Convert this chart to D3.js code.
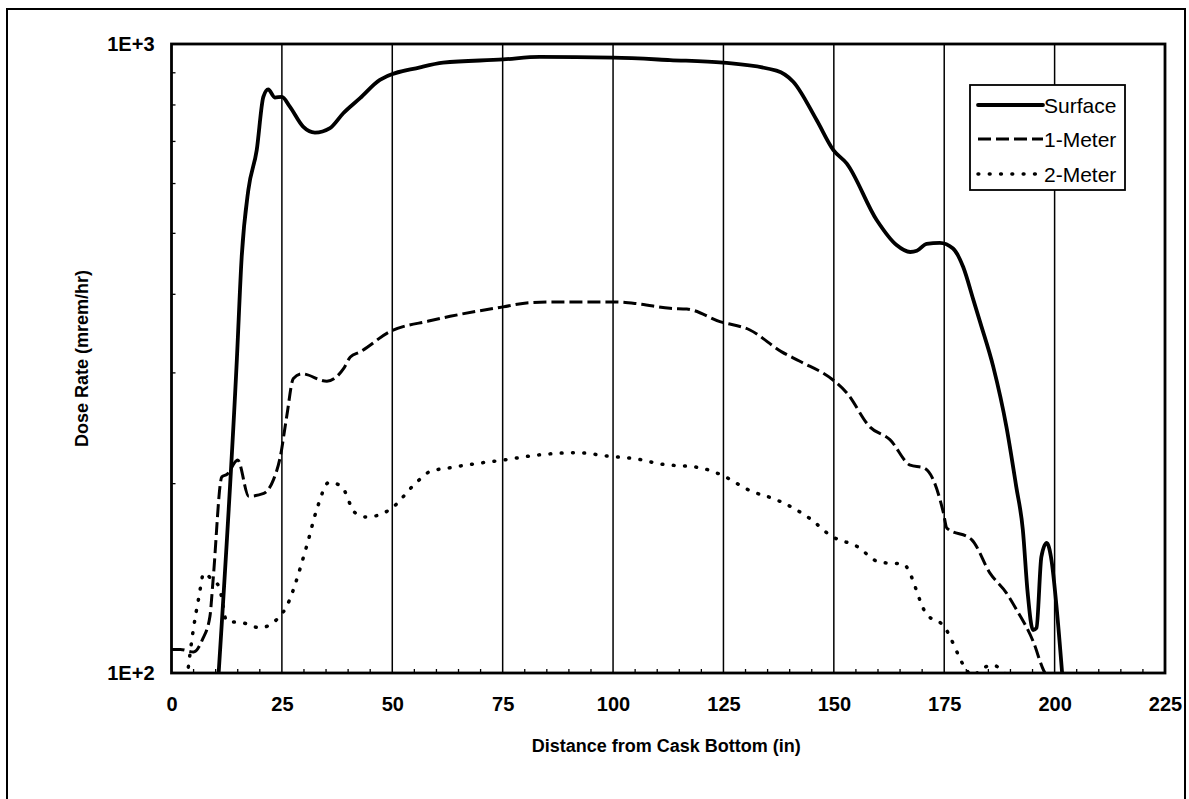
<!DOCTYPE html>
<html>
<head>
<meta charset="utf-8">
<script src="https://cdn.jsdelivr.net/npm/d3@7"></script>
<style>
  html, body { margin: 0; padding: 0; background: #fff; }
  svg { display: block; }
  text { font-family: "Liberation Sans", Arial, sans-serif; fill: #000; }
</style>
</head>
<body>
<svg id="chart" width="1189" height="799"></svg>
<script>
// Dose rate profiles along the cask (distance in inches, dose in mrem/hr)
const surfaceDist = [10.6, 14.8, 15.9, 17.4, 19.3, 20.8, 21.9, 23.4, 25, 26.8, 29.8, 32.5, 35.9, 38.9, 42.7, 47.2, 56.3, 61.5, 75.1, 83.4, 100, 112.9, 124.9, 137, 140.8, 146.1, 149.9, 152.9, 159.7, 164.2, 167.3, 168.8, 171, 174, 177, 179.3, 181.6, 183.2, 186.1, 189.1, 191.3, 192.8, 193.9, 195.1, 195.9, 197, 198.2, 199.3, 200.5, 201.8];
const surfaceDose = [98, 315, 459, 586, 678, 824, 847, 822, 824, 795, 739, 723, 735, 776, 820, 877, 918, 934, 945, 954, 951, 943, 934, 907, 871, 757, 678, 646, 525, 479, 467, 469, 481, 483, 473, 442, 392, 360, 307, 246, 198, 169, 134, 117, 118, 153, 161, 151, 126, 98];

const oneMeterDist = [0, 2, 5, 7, 8.7, 9.4, 11.4, 12.6, 15, 17.5, 20.9, 23.1, 24.6, 26.1, 27.6, 29.5, 35.2, 39, 40.5, 42.7, 49.5, 58.5, 63.1, 75.1, 81.2, 87.2, 100.8, 106.1, 112.9, 116.7, 124.2, 131, 138.2, 142.3, 149.9, 152.9, 158.2, 162.7, 167.3, 170.3, 172.5, 174.8, 175.6, 181.2, 185.4, 189.1, 191.4, 195.2, 197.5, 198.6];
const oneMeterDose = [109, 109, 108, 113, 123, 140, 205, 207, 218, 191, 193, 203, 220, 256, 294, 299, 291, 305, 318, 324, 349, 363, 369, 382, 388, 389, 389, 386, 380, 379, 362, 351, 324, 313, 292, 279, 246, 235, 214, 212, 203, 180, 170, 163, 144, 134, 126, 112, 101, 98];

const twoMeterDist = [3.5, 5, 6.2, 7.3, 9.1, 10.8, 12.5, 16.5, 20, 25.3, 30.6, 32.9, 35.7, 38.5, 41.5, 44.2, 49.5, 55.5, 58.5, 63.1, 70.6, 75.1, 82.7, 91.8, 99.3, 105.3, 110.6, 119.7, 124.2, 131, 137.4, 144.6, 149.5, 155.2, 160.4, 165.7, 171, 174.8, 180.1, 181.2, 184, 186, 188, 189.2];
const twoMeterDose = [98, 118, 132, 144, 141, 137, 121, 120, 118, 125, 159, 182, 201, 198, 180, 177, 182, 201, 209, 212, 216, 218, 222, 224, 221, 219, 215, 212, 207, 195, 188, 176, 165, 159, 150, 149, 124, 119, 101, 99, 102, 103, 101, 99];

const seriesNames = ["Surface", "1-Meter", "2-Meter"];
const xTickValues = [0, 25, 50, 75, 100, 125, 150, 175, 200, 225];
const xGridValues = [25, 50, 75, 100, 125, 150, 175, 200];
const xMinorValues = d3.range(5, 225, 5).filter(v => v % 25 !== 0);
const yTickValues = [100, 1000];
const yTickLabels = ["1E+2", "1E+3"];
const yMinorValues = [200, 300, 400, 500, 600, 700, 800, 900];
const xTitle = "Distance from Cask Bottom (in)";
const yTitle = "Dose Rate (mrem/hr)";

const svg = d3.select("#chart");
const plot = { left: 171.5, right: 1165, top: 44, bottom: 673 };

const x = d3.scaleLinear().domain([0, 225]).range([plot.left, plot.right]);
const y = d3.scaleLog().domain([100, 1000]).range([plot.bottom, plot.top]);

// outer chart frame
svg.append("rect")
  .attr("x", 7).attr("y", 9)
  .attr("width", 1178).attr("height", 840)
  .attr("fill", "none").attr("stroke", "#000").attr("stroke-width", 2);

// vertical gridlines
svg.append("g")
  .selectAll("line")
  .data(xGridValues)
  .join("line")
  .attr("x1", d => x(d)).attr("x2", d => x(d))
  .attr("y1", plot.top).attr("y2", plot.bottom)
  .attr("stroke", "#000").attr("stroke-width", 1.5);

// minor ticks on the x axis (pointing inward)
svg.append("g")
  .selectAll("line")
  .data(xMinorValues)
  .join("line")
  .attr("x1", d => x(d)).attr("x2", d => x(d))
  .attr("y1", plot.bottom).attr("y2", plot.bottom - 4)
  .attr("stroke", "#000").attr("stroke-width", 1.3);

// minor ticks on the log y axis
svg.append("g")
  .selectAll("line")
  .data(yMinorValues)
  .join("line")
  .attr("x1", plot.left).attr("x2", plot.left + 4)
  .attr("y1", d => y(d)).attr("y2", d => y(d))
  .attr("stroke", "#000").attr("stroke-width", 1.3);

// x axis labels
const xAxis = d3.axisBottom(x).tickValues(xTickValues).tickSize(0).tickPadding(24)
  .tickFormat(d3.format("d"));
const gx = svg.append("g").attr("transform", `translate(0,${plot.bottom})`).call(xAxis);
gx.select(".domain").remove();
gx.selectAll("text")
  .attr("font-family", "Liberation Sans, Arial, sans-serif")
  .attr("font-size", 20).attr("font-weight", "bold").attr("fill", "#000");

// y axis labels
const yAxis = d3.axisLeft(y).tickValues(yTickValues).tickSize(0).tickPadding(17)
  .tickFormat((d, i) => yTickLabels[i]);
const gy = svg.append("g").attr("transform", `translate(${plot.left},0)`).call(yAxis);
gy.select(".domain").remove();
gy.selectAll("text")
  .attr("font-family", "Liberation Sans, Arial, sans-serif")
  .attr("font-size", 20).attr("font-weight", "bold").attr("fill", "#000");

// clip curves to the plotting area
svg.append("clipPath").attr("id", "plotClip")
  .append("rect")
  .attr("x", plot.left).attr("y", plot.top)
  .attr("width", plot.right - plot.left).attr("height", plot.bottom - plot.top);

const line = d3.line()
  .x(d => x(d[0]))
  .y(d => y(d[1]))
  .curve(d3.curveMonotoneX);

const series = [
  { name: seriesNames[0], pts: d3.zip(surfaceDist, surfaceDose), width: 3.8, dash: null, cap: "round" },
  { name: seriesNames[1], pts: d3.zip(oneMeterDist, oneMeterDose), width: 3, dash: "13,5", cap: "butt" },
  { name: seriesNames[2], pts: d3.zip(twoMeterDist, twoMeterDose), width: 3.5, dash: "0.8,10.5", cap: "round" }
];

const gLines = svg.append("g").attr("clip-path", "url(#plotClip)");
series.forEach(s => {
  gLines.append("path")
    .datum(s.pts)
    .attr("d", line)
    .attr("fill", "none")
    .attr("stroke", "#000")
    .attr("stroke-width", s.width)
    .attr("stroke-linejoin", "round")
    .attr("stroke-linecap", s.cap)
    .attr("stroke-dasharray", s.dash);
});

// plot area border
svg.append("rect")
  .attr("x", plot.left).attr("y", plot.top)
  .attr("width", plot.right - plot.left).attr("height", plot.bottom - plot.top)
  .attr("fill", "none").attr("stroke", "#000").attr("stroke-width", 2.8);

// axis titles
svg.append("text")
  .attr("x", (plot.left + plot.right) / 2 - 2).attr("y", 752)
  .attr("text-anchor", "middle")
  .attr("font-size", 18).attr("font-weight", "bold")
  .text(xTitle);

svg.append("text")
  .attr("transform", `translate(88,${(plot.top + plot.bottom) / 2}) rotate(-90)`)
  .attr("text-anchor", "middle")
  .attr("font-size", 18).attr("font-weight", "bold")
  .text(yTitle);

// legend
const legend = svg.append("g");
legend.append("rect")
  .attr("x", 970).attr("y", 85).attr("width", 155).attr("height", 105)
  .attr("fill", "#fff").attr("stroke", "#000").attr("stroke-width", 1.8);

const legendY = [105, 139, 174];
series.forEach((s, i) => {
  legend.append("line")
    .attr("x1", 978).attr("x2", 1043)
    .attr("y1", legendY[i]).attr("y2", legendY[i])
    .attr("stroke", "#000")
    .attr("stroke-width", s.width)
    .attr("stroke-linecap", s.cap)
    .attr("stroke-dasharray", s.dash);
  legend.append("text")
    .attr("x", 1044).attr("y", legendY[i])
    .attr("dy", "0.36em")
    .attr("font-size", 21)
    .text(s.name);
});
</script>
</body>
</html>
